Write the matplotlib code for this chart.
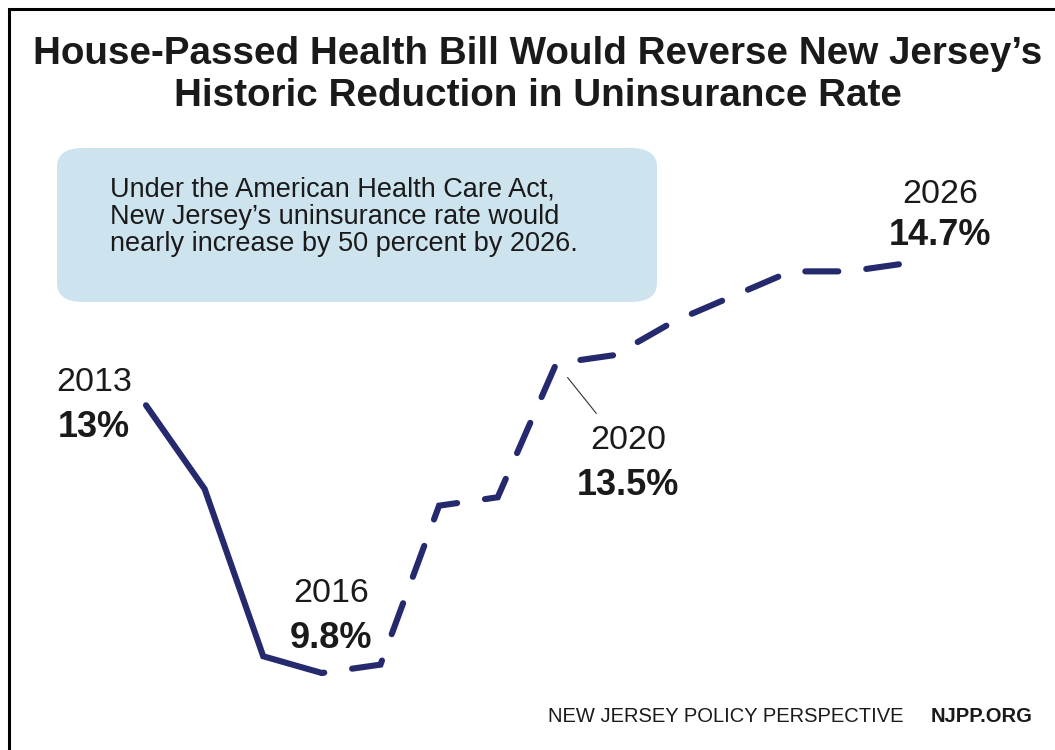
import matplotlib
matplotlib.use('Agg')
import matplotlib.pyplot as plt
from matplotlib.patches import FancyBboxPatch, Rectangle

years = [2013, 2014, 2015, 2016, 2017, 2018, 2019, 2020, 2021, 2022, 2023, 2024, 2025, 2026]
rates = [13.0, 12.0, 10.0, 9.8, 9.9, 11.8, 11.9, 13.5, 13.6, 14.0, 14.3, 14.6, 14.6, 14.7]
last_actual = 2016  # solid up to here, projections dashed after

callouts = [(2013, '13%'), (2016, '9.8%'), (2020, '13.5%'), (2026, '14.7%')]

title = "House-Passed Health Bill Would Reverse New Jersey\u2019s\nHistoric Reduction in Uninsurance Rate"
note = ("Under the American Health Care Act,\n"
        "New Jersey\u2019s uninsurance rate would\n"
        "nearly increase by 50 percent by 2026.")

navy = '#25296e'
ink = '#1a1a1a'

plt.rcParams['font.family'] = ['Liberation Sans', 'DejaVu Sans']

W, H = 1055, 750
fig = plt.figure(figsize=(W / 100, H / 100), dpi=100)

# outer frame (only top/left visible in the crop)
fig.patches.append(Rectangle((9 / W, -0.05), 1.2, 1 - 9 / H + 0.05, transform=fig.transFigure,
                             fill=False, edgecolor='black', linewidth=2.2))

fig.text(538 / W, 1 - 75 / H, title, ha='center', va='center', fontsize=27.8, fontweight='bold',
         color=ink, linespacing=1.22)

box = FancyBboxPatch((57 / W, 1 - 302 / H), 600 / W, 154 / H, transform=fig.transFigure,
                     boxstyle='round,pad=0,rounding_size=0.025', facecolor='#cde3ee', edgecolor='none')
fig.patches.append(box)
fig.text(110 / W, 1 - 217 / H, note, ha='left', va='center', fontsize=19.5, color=ink,
         linespacing=1.07)

# axes mapped so the line sits where it does in the original
x0, x1 = 146, 908
y_top, y_bot = 263, 673
ax = fig.add_axes([x0 / W, (H - y_bot) / H, (x1 - x0) / W, (y_bot - y_top) / H])
ax.set_xlim(years[0], years[-1])
ax.set_ylim(9.8, 14.7)
ax.axis('off')

k = years.index(last_actual)
lw = 4.4
ax.plot(years[:k + 1], rates[:k + 1], color=navy, lw=lw, solid_capstyle='round',
        solid_joinstyle='miter', clip_on=False)
ax.plot(years[k:], rates[k:], color=navy, lw=lw, linestyle=(5.0, (5.4, 4.6)),
        dash_capstyle='round', dash_joinstyle='miter', clip_on=False)

# callout label pairs: centre offset from the point in pixels (up positive)
offsets = {2013: (-52, 0.5), 2016: (9, 57.5), 2020: (72, -100), 2026: (32, 47.5)}
half_gap = {2013: 22.5, 2016: 22.5, 2020: 22.5, 2026: 20.5}
pt = 0.72
for yr, lab in callouts:
    v = rates[years.index(yr)]
    dx, dy = offsets[yr]
    g = half_gap[yr]
    ax.annotate(str(yr), (yr, v), xytext=(dx * pt, (dy + g) * pt), textcoords='offset points',
                ha='center', va='center', fontsize=24.5, color=ink, annotation_clip=False)
    ax.annotate(lab, (yr, v), xytext=(dx * pt, (dy - g) * pt), textcoords='offset points',
                ha='center', va='center', fontsize=26, fontweight='bold', color=ink,
                annotation_clip=False)

# leader line for 2020
v20 = rates[years.index(2020)]
ax.annotate('', (2020, v20), xytext=(40 * pt, -50 * pt), textcoords='offset points',
            arrowprops=dict(arrowstyle='-', color='#333333', lw=0.8, shrinkA=0, shrinkB=13),
            annotation_clip=False)

fig.text(903 / W, 1 - 717 / H, 'NEW JERSEY POLICY PERSPECTIVE', ha='right', va='center',
         fontsize=14.5, color=ink)
fig.text(1032 / W, 1 - 717 / H, 'NJPP.ORG', ha='right', va='center', fontsize=14.5,
         fontweight='bold', color=ink)

fig.savefig('out.png', dpi=100)
